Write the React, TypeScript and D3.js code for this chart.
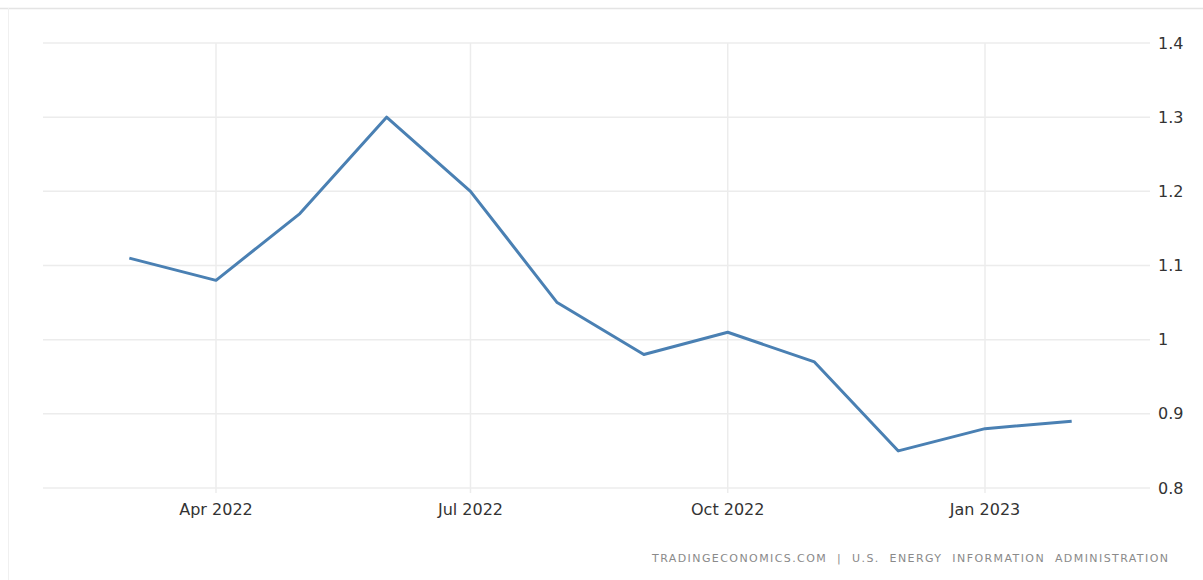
import React from "react";
import * as d3 from "d3";

const months: string[] = ["2022-03-01","2022-04-01","2022-05-01","2022-06-01","2022-07-01","2022-08-01","2022-09-01","2022-10-01","2022-11-01","2022-12-01","2023-01-01","2023-02-01"];
const values: number[] = [1.11, 1.08, 1.17, 1.30, 1.20, 1.05, 0.98, 1.01, 0.97, 0.85, 0.88, 0.89];
const yTicks: number[] = [0.8, 0.9, 1.0, 1.1, 1.2, 1.3, 1.4];
const xTickDates: string[] = ["2022-04-01","2022-07-01","2022-10-01","2023-01-01"];
const xTickLabels: string[] = ["Apr 2022","Jul 2022","Oct 2022","Jan 2023"];
const footer = "TRADINGECONOMICS.COM  |  U.S.  ENERGY  INFORMATION  ADMINISTRATION";

export default function App() {
  const W = 1203, H = 580;
  const parse = d3.utcParse("%Y-%m-%d");
  const x = d3.scaleUtc()
    .domain([parse("2022-04-01")!, parse("2023-01-01")!])
    .range([216, 985]);
  const y = d3.scaleLinear().domain([0.8, 1.4]).range([488, 43]);
  const gridLeft = 43, gridRight = 1150;
  const data = months.map((m, i) => ({ d: parse(m)!, v: values[i] }));
  const line = d3.line<{ d: Date; v: number }>().x(p => x(p.d)).y(p => y(p.v));
  const fmt = (v: number) => (Math.abs(v - 1) < 1e-9 ? "1" : d3.format(".1f")(v));

  return (
    <svg width={W} height={H} style={{ position: "absolute", left: 0, top: 0 }}>
      <rect x={0} y={0} width={W} height={H} fill="#fff" />
      <line x1={0} x2={W} y1={8.5} y2={8.5} stroke="#e4e4e4" strokeWidth={1.5} />
      <line x1={8.5} x2={8.5} y1={8} y2={H} stroke="#f0f0f0" strokeWidth={1} />
      {yTicks.map(t => (
        <line key={"gy" + t} x1={gridLeft} x2={gridRight} y1={y(t)} y2={y(t)} stroke="#ececec" strokeWidth={1.5} />
      ))}
      {xTickDates.map(s => {
        const xx = x(parse(s)!);
        return <line key={"gx" + s} x1={xx} x2={xx} y1={43} y2={493} stroke="#ececec" strokeWidth={1.5} />;
      })}
      <path d={line(data) || ""} fill="none" stroke="#4a80b3" strokeWidth={3} strokeLinejoin="round" strokeLinecap="butt" />
      {yTicks.map(t => (
        <text key={"ty" + t} x={1158} y={y(t)} dy="0.35em" fontFamily="DejaVu Sans" fontSize={16} fill="#333">
          {fmt(t)}
        </text>
      ))}
      {xTickDates.map((s, i) => (
        <text key={"tx" + s} x={x(parse(s)!)} y={515} textAnchor="middle" fontFamily="DejaVu Sans" fontSize={16} fill="#333">
          {xTickLabels[i]}
        </text>
      ))}
      <text x={652} y={562} textLength={516} lengthAdjust="spacing" fontFamily="DejaVu Sans" fontSize={11} fill="#8a8a8a" style={{ whiteSpace: "pre" }}>
        {footer}
      </text>
    </svg>
  );
}
